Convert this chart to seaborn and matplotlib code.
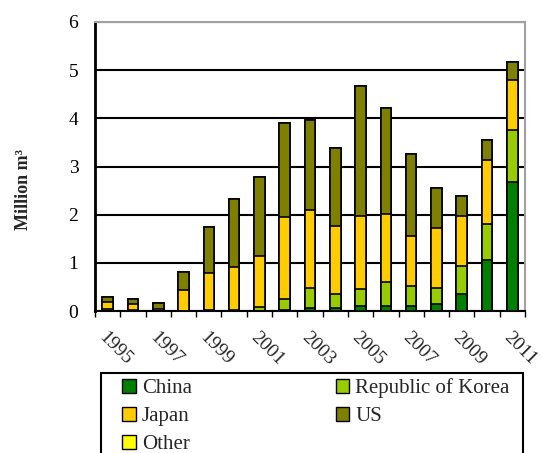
import matplotlib
matplotlib.use("Agg")
import matplotlib.pyplot as plt
import seaborn as sns
import numpy as np
import pandas as pd
from matplotlib.patches import Patch, Rectangle

years = list(range(1995, 2012))
china = [0.00, 0.00, 0.01, 0.00, 0.01, 0.01, 0.01, 0.02, 0.07, 0.07, 0.11, 0.11, 0.11, 0.15, 0.35, 1.06, 2.68]
korea = [0.05, 0.02, 0.00, 0.00, 0.01, 0.02, 0.07, 0.22, 0.40, 0.28, 0.34, 0.49, 0.41, 0.33, 0.58, 0.75, 1.08]
japan = [0.13, 0.13, 0.03, 0.44, 0.76, 0.88, 1.07, 1.71, 1.63, 1.42, 1.52, 1.42, 1.04, 1.24, 1.04, 1.32, 1.03]
us = [0.11, 0.09, 0.12, 0.38, 0.96, 1.41, 1.63, 1.95, 1.86, 1.62, 2.70, 2.19, 1.70, 0.84, 0.42, 0.42, 0.38]
other = [0.0] * 17

series = ["China", "Republic of Korea", "Japan", "US", "Other"]
colors = {"China": "#008000", "Republic of Korea": "#99CC00", "Japan": "#FFCC00",
          "US": "#808000", "Other": "#FFFF00"}

df = pd.DataFrame({"year": years, "China": china, "Republic of Korea": korea,
                   "Japan": japan, "US": us, "Other": other})

sns.set_theme(style="white")
plt.rcParams["font.family"] = ["Liberation Serif", "DejaVu Serif"]

W, H = 542, 453
fig = plt.figure(figsize=(W / 100, H / 100), dpi=100)
ax = fig.add_axes([95 / W, 1 - 311 / H, 430 / W, 289 / H])

# stacked bars: draw the cumulative totals from the top series down
cum = df[series].cumsum(axis=1)
for name in reversed(series):
    sns.barplot(x=df["year"].astype(str), y=cum[name], color=colors[name],
                width=0.42, edgecolor="black", linewidth=1.2, saturation=1,
                ax=ax, zorder=3)

ax.set_ylim(0, 6)
ax.set_xlim(-0.5, 16.5)
ax.set_yticks(range(0, 7))
ax.yaxis.grid(True, color="black", linewidth=1.5, zorder=0)
ax.set_axisbelow(True)
ax.tick_params(axis="y", labelsize=14, length=8, width=1.2, direction="inout",
               colors="black", pad=8)

ax.set_xticks(np.arange(0, 17, 2))
ax.set_xticklabels([str(y) for y in years[::2]], rotation=-45, ha="left",
                   va="top", rotation_mode="anchor", fontsize=14)
ax.tick_params(axis="x", length=0, pad=13)
ax.set_xticks(np.arange(-0.5, 17, 1), minor=True)
ax.tick_params(axis="x", which="minor", length=4, width=1, direction="out",
               color="black", bottom=True)
ax.set_xlabel("")
ax.set_ylabel("")
fig.text(24 / W, 1 - 190 / H, "Million m³", rotation=90, ha="center", va="center",
         fontsize=13, fontweight="bold")

for side in ["left", "bottom"]:
    ax.spines[side].set_color("black")
ax.spines["left"].set_linewidth(2)
ax.spines["bottom"].set_linewidth(1.5)
for side in ["top", "right"]:
    ax.spines[side].set_color("#a0a0a0")
    ax.spines[side].set_linewidth(1.5)

# legend frame runs off the bottom edge like in the original
fig.patches.append(Rectangle((101 / W, 1 - 470 / H), 422 / W, 97 / H,
                             transform=fig.transFigure, facecolor="white",
                             edgecolor="black", linewidth=1.5))
order = ["China", "Japan", "Other", "Republic of Korea", "US"]
handles = [Patch(facecolor=colors[n], edgecolor="black", linewidth=1) for n in order]
leg = fig.legend(handles, order, loc="upper left", ncol=2,
                 bbox_to_anchor=(122 / W, 1 - 378 / H),
                 fontsize=15, frameon=False,
                 handlelength=0.65, handleheight=0.65, handletextpad=0.3,
                 labelspacing=0.42, columnspacing=6.9, borderpad=0, borderaxespad=0)

fig.savefig("out.png", dpi=100)
